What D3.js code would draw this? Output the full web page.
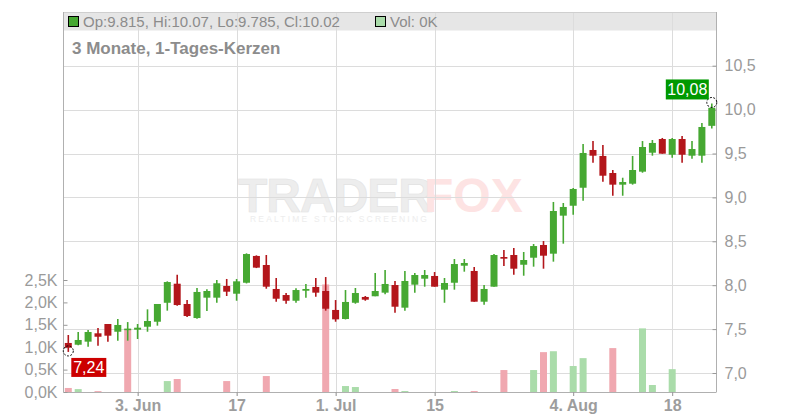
<!DOCTYPE html>
<html><head><meta charset="utf-8">
<script src="https://cdn.jsdelivr.net/npm/d3@7"></script>
<style>body{margin:0;background:#fff}svg{display:block;font-family:"Liberation Sans",Arial,sans-serif}</style>
</head><body><svg id="c" width="800" height="420"></svg>
<script>
const dates = ["2025-05-23","2025-05-26","2025-05-27","2025-05-28","2025-05-29","2025-05-30",
"2025-06-02","2025-06-03","2025-06-04","2025-06-05","2025-06-06","2025-06-09","2025-06-10","2025-06-11","2025-06-12","2025-06-13",
"2025-06-16","2025-06-17","2025-06-18","2025-06-19","2025-06-20","2025-06-23","2025-06-24","2025-06-25","2025-06-26","2025-06-27",
"2025-06-30","2025-07-01","2025-07-02","2025-07-03","2025-07-04","2025-07-07","2025-07-08","2025-07-09","2025-07-10","2025-07-11",
"2025-07-14","2025-07-15","2025-07-16","2025-07-17","2025-07-18","2025-07-21","2025-07-22","2025-07-23","2025-07-24","2025-07-25",
"2025-07-28","2025-07-29","2025-07-30","2025-07-31","2025-08-01","2025-08-04","2025-08-05","2025-08-06","2025-08-07","2025-08-08",
"2025-08-11","2025-08-12","2025-08-13","2025-08-14","2025-08-15","2025-08-18","2025-08-19","2025-08-20","2025-08-21","2025-08-22"];
const open  = [7.342,7.322,7.357,7.452,7.558,7.47,7.493,7.493,7.527,7.584,7.80,8.017,7.786,7.626,7.858,7.858,7.991,7.903,8.028,8.333,
8.23,7.957,7.888,7.823,7.937,7.98,7.934,7.718,7.615,7.80,7.866,7.874,7.915,8.002,7.744,8.006,8.074,8.105,7.949,8.028,
8.222,8.162,7.812,7.983,8.321,8.344,8.233,8.313,8.458,8.359,8.792,8.905,9.11,9.54,9.472,9.278,9.145,9.156,9.293,9.509,
9.665,9.486,9.665,9.475,9.475,9.815];
const high  = [7.433,7.467,7.49,7.513,7.558,7.615,7.58,7.558,7.725,7.786,8.044,8.12,7.831,7.968,7.953,8.059,8.071,8.071,8.363,8.34,
8.344,8.082,7.911,7.965,8.014,8.082,8.093,7.831,7.945,7.968,7.877,8.139,8.173,8.048,8.162,8.139,8.173,8.15,8.082,8.298,
8.298,8.207,8.002,8.355,8.40,8.424,8.378,8.469,8.503,8.948,8.936,9.107,9.608,9.642,9.597,9.312,9.224,9.472,9.642,9.654,
9.677,9.677,9.70,9.642,9.847,10.07];
const low   = [7.24,7.315,7.30,7.311,7.357,7.368,7.368,7.387,7.47,7.539,7.71,7.767,7.638,7.618,7.706,7.80,7.877,7.823,8.02,8.195,
7.96,7.812,7.789,7.80,7.858,7.869,7.71,7.584,7.61,7.789,7.823,7.874,7.896,7.687,7.71,7.915,7.983,7.983,7.80,7.949,
8.154,7.812,7.778,7.983,8.219,8.12,8.108,8.211,8.188,8.268,8.473,8.803,8.962,9.395,9.179,9.019,9.019,9.145,9.281,9.475,
9.498,9.452,9.395,9.441,9.395,9.785];
const close = [7.288,7.376,7.467,7.413,7.425,7.547,7.505,7.516,7.592,7.786,8.036,7.774,7.649,7.923,7.934,8.022,7.926,8.044,8.355,8.20,
7.983,7.846,7.823,7.945,7.957,7.915,7.732,7.611,7.809,7.911,7.835,7.934,8.014,7.755,8.048,8.116,8.116,7.983,8.025,8.241,
8.253,7.812,7.957,8.344,8.302,8.188,8.287,8.446,8.336,8.845,8.891,9.096,9.506,9.475,9.247,9.145,9.175,9.312,9.574,9.62,
9.498,9.665,9.486,9.551,9.802,10.02];
const volume = [0.09,0.065,0,0.02,0,0,1.41,0,0,0,0.244,0.29,0,0,0,0,0.244,0,0,0,
0.356,0,0,0,0,0,2.4,0,0.133,0.111,0,0,0,0.067,0.022,0,0,0,0,0.022,
0,0.022,0,0,0.49,0,0,0.49,0.89,0.91,0,0.58,0.756,0,0,0.98,0,0,1.42,0.156,
0,0.51,0,0,0,0];
const priceTicks = [7.0,7.5,8.0,8.5,9.0,9.5,10.0,10.5];
const volTicks = [0,0.5,1.0,1.5,2.0,2.5];
const tickDates = ["2025-06-03","2025-06-17","2025-07-01","2025-07-15","2025-08-04","2025-08-18"];
const tickLabels = ["3. Jun","17","1. Jul","15","4. Aug","18"];
const title = "3 Monate, 1-Tages-Kerzen";
const legendText = "Op:9.815, Hi:10.07, Lo:9.785, Cl:10.02";
const volLegendText = "Vol: 0K";
const lowLabel = "7,24", highLabel = "10,08";

const L = {left:63.5, right:716.5, top:12, bottom:392};
const svg = d3.select("#c");
const x = d3.scaleLinear().domain([0, dates.length-1]).range([68.3, 711.8]);
const y = d3.scaleLinear().domain([7.0, 10.5]).range([373, 65.7]);
const yv = d3.scaleLinear().domain([0, 2.5]).range([392, 280]);
const GREEN="#46a832", RED="#b3161b", VGREEN="#aadcaa", VRED="#f0a8b0";
const fmt = v => d3.format(".1f")(v).replace(".", ",");

// header band
svg.append("rect").attr("x",L.left).attr("y",L.top).attr("width",L.right-L.left).attr("height",18.5).attr("fill","#e6e6e6");
// watermark
const wm = svg.append("g").attr("opacity",0.9);
wm.append("text").attr("x",238).attr("y",212).attr("font-size",48).attr("font-weight","bold").attr("fill","#ececec")
  .attr("stroke","#e0e0e0").attr("stroke-width",0.6).attr("letter-spacing",-1).text("TRADER");
wm.append("text").attr("x",424).attr("y",212).attr("font-size",48).attr("font-weight","bold").attr("fill","#fde0e0").text("FOX");
wm.append("text").attr("x",250).attr("y",222).attr("font-size",8.5).attr("fill","#ececec").attr("letter-spacing",2.2).text("REALTIME STOCK SCREENING");

// grid
svg.append("g").selectAll("line").data(priceTicks).join("line")
  .attr("x1",L.left).attr("x2",L.right).attr("y1",d=>Math.round(y(d))+0.5).attr("y2",d=>Math.round(y(d))+0.5)
  .attr("stroke","#dcdcdc").attr("stroke-width",1);
svg.append("g").selectAll("line").data(tickDates).join("line")
  .attr("x1",d=>Math.round(x(dates.indexOf(d)))+0.5).attr("x2",d=>Math.round(x(dates.indexOf(d)))+0.5)
  .attr("y1",L.top).attr("y2",L.bottom+4).attr("stroke","#dcdcdc");
// frame
svg.append("line").attr("x1",L.left).attr("x2",L.right).attr("y1",L.top+0.5).attr("y2",L.top+0.5).attr("stroke","#cfcfcf");
svg.append("line").attr("x1",L.left).attr("x2",L.left).attr("y1",L.top).attr("y2",L.bottom).attr("stroke","#b0b0b0");
svg.append("line").attr("x1",L.right).attr("x2",L.right).attr("y1",L.top).attr("y2",L.bottom).attr("stroke","#b0b0b0");
svg.append("line").attr("x1",L.left).attr("x2",L.right).attr("y1",L.bottom+0.5).attr("y2",L.bottom+0.5).attr("stroke","#b0b0b0");

// legend
svg.append("rect").attr("x",68.5).attr("y",16.5).attr("width",10).attr("height",10).attr("fill",GREEN).attr("stroke","#000");
svg.append("text").attr("x",83).attr("y",26.5).attr("font-size",15).attr("fill","#8c8c8c").text(legendText);
svg.append("rect").attr("x",375.5).attr("y",16.5).attr("width",10).attr("height",10).attr("fill",VGREEN).attr("stroke","#000");
svg.append("text").attr("x",390).attr("y",26.5).attr("font-size",15).attr("fill","#8c8c8c").text(volLegendText);
svg.append("text").attr("x",72).attr("y",54).attr("font-size",17).attr("font-weight","bold").attr("fill","#8c8c8c").text(title);

// axes
const ra = svg.append("g").attr("transform",`translate(${L.right},0)`)
  .call(d3.axisRight(y).tickValues(priceTicks).tickSize(-4).tickPadding(8).tickFormat(fmt));
ra.select(".domain").remove();
ra.selectAll("line").attr("stroke","#999");
ra.selectAll("text").attr("font-size",16).attr("fill","#9a9a9a").attr("font-family","Liberation Sans, Arial");
const la = svg.append("g").attr("transform",`translate(${L.left},0)`)
  .call(d3.axisLeft(yv).tickValues(volTicks).tickSize(-4).tickPadding(6).tickFormat(v=>fmt(v)+"K"));
la.select(".domain").remove();
la.selectAll("line").attr("stroke","#999");
la.selectAll("text").attr("font-size",16).attr("fill","#9a9a9a").attr("font-family","Liberation Sans, Arial");
const ba = svg.append("g").attr("transform",`translate(0,${L.bottom})`)
  .call(d3.axisBottom(x).tickValues(tickDates.map(d=>dates.indexOf(d))).tickSize(4).tickPadding(4)
  .tickFormat((d,i)=>tickLabels[i]));
ba.select(".domain").remove();
ba.selectAll("line").attr("stroke","#999");
ba.selectAll("text").attr("font-size",16).attr("font-weight","bold").attr("fill","#9d9d9d").attr("font-family","Liberation Sans, Arial");

// volume bars
const idx = d3.range(dates.length);
svg.append("g").selectAll("rect").data(idx.filter(i=>volume[i]>0)).join("rect")
  .attr("x",i=>x(i)-3.5).attr("width",7).attr("y",i=>yv(volume[i])).attr("height",i=>yv(0)-yv(volume[i]))
  .attr("fill",i=>{const up = i>0 ? close[i]>=close[i-1] : close[i]>=open[i]; return up?VGREEN:VRED;});

// candles
const cg = svg.append("g").selectAll("g").data(idx).join("g");
cg.append("line").attr("x1",i=>x(i)).attr("x2",i=>x(i)).attr("y1",i=>y(high[i])).attr("y2",i=>y(low[i]))
  .attr("stroke",i=>close[i]>=open[i]?GREEN:RED).attr("stroke-width",1.6);
cg.append("rect").attr("x",i=>x(i)-3.5).attr("width",7)
  .attr("y",i=>y(Math.max(open[i],close[i])))
  .attr("height",i=>Math.max(1.5, Math.abs(y(open[i])-y(close[i]))))
  .attr("fill",i=>close[i]>=open[i]?GREEN:RED);

// markers
const n = dates.length-1;
const lowIdx = d3.minIndex(low), hiIdx = n;
const lc = [x(lowIdx), y(low[lowIdx])], hc = [x(hiIdx), y(high[hiIdx])];
[lc,hc].forEach(c=>svg.append("circle").attr("cx",c[0]).attr("cy",c[1]-1).attr("r",5)
  .attr("fill","none").attr("stroke","#000").attr("stroke-dasharray","2,1.5"));
svg.append("rect").attr("x",lc[0]+3).attr("y",lc[1]+6).attr("width",35).attr("height",19).attr("fill","#cc0000");
svg.append("text").attr("x",lc[0]+20.5).attr("y",lc[1]+21).attr("text-anchor","middle").attr("font-size",16).attr("fill","#fff").text(lowLabel);
svg.append("rect").attr("x",hc[0]-46).attr("y",hc[1]-24).attr("width",43).attr("height",20).attr("fill","#009900");
svg.append("text").attr("x",hc[0]-24.5).attr("y",hc[1]-8.5).attr("text-anchor","middle").attr("font-size",16).attr("fill","#fff").text(highLabel);
</script></body></html>
